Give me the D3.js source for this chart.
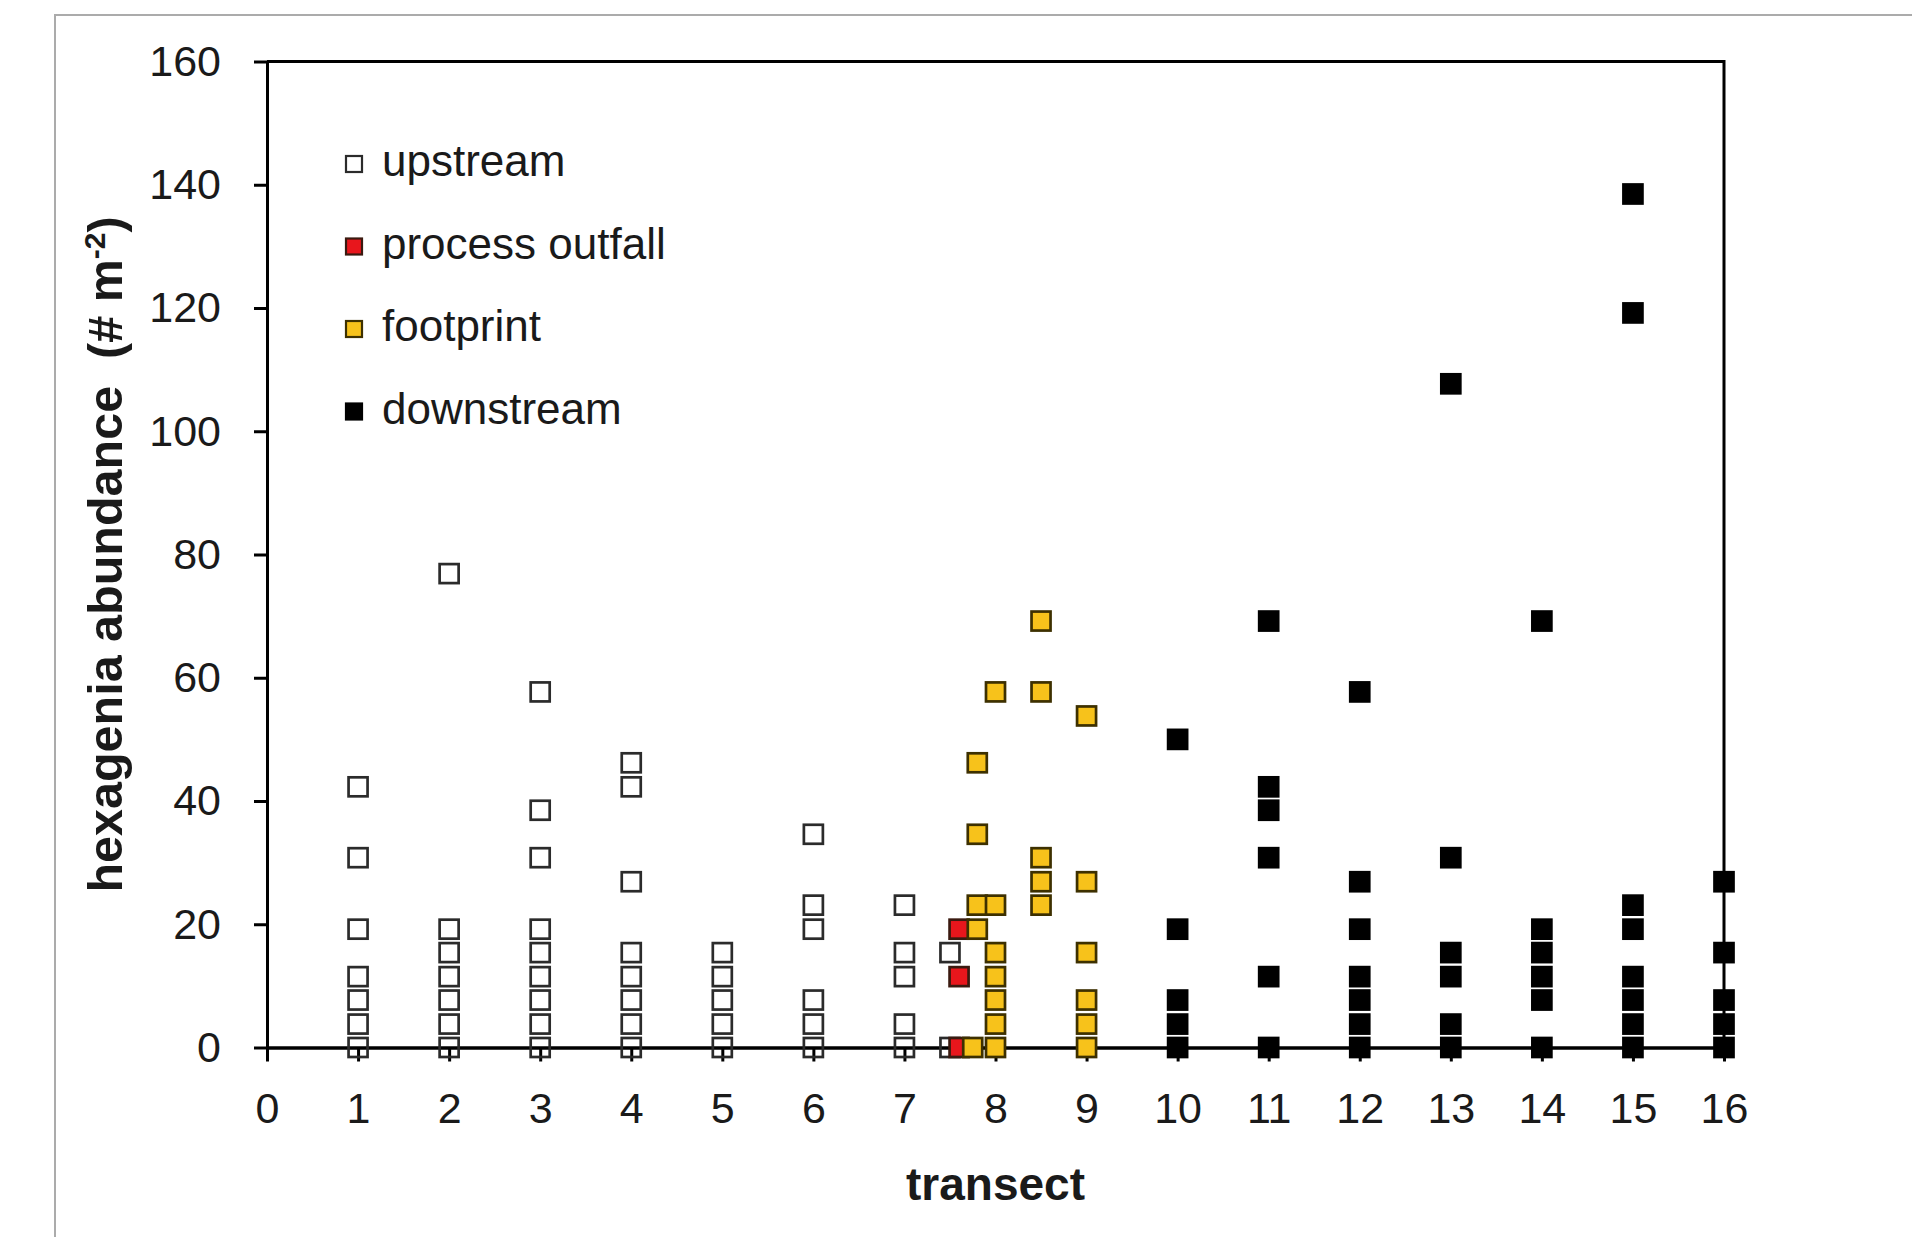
<!DOCTYPE html>
<html>
<head>
<meta charset="utf-8">
<script src="https://cdn.jsdelivr.net/npm/d3@7"></script>
<style>
  body { margin: 0; background: #fff; }
  svg { display: block; }
  text { font-family: "Liberation Sans", Arial, sans-serif; fill: #1a1a1a; }
</style>
</head>
<body>
<script>
// values, hexagenia per m2 (one animal = 3.846 per m2)
var upstream = [
  [1,42.3],[1,30.8],[1,19.2],[1,11.5],[1,7.7],[1,3.8],[1,0],
  [2,76.9],[2,19.2],[2,15.4],[2,11.5],[2,7.7],[2,3.8],[2,0],
  [3,57.7],[3,38.5],[3,30.8],[3,19.2],[3,15.4],[3,11.5],[3,7.7],[3,3.8],[3,0],
  [4,46.2],[4,42.3],[4,26.9],[4,15.4],[4,11.5],[4,7.7],[4,3.8],[4,0],
  [5,15.4],[5,11.5],[5,7.7],[5,3.8],[5,0],
  [6,34.6],[6,23.1],[6,19.2],[6,7.7],[6,3.8],[6,0],
  [7,23.1],[7,15.4],[7,11.5],[7,3.8],[7,0],
  [7.5,15.4],[7.5,0]
];
var outfall = [[7.6,19.2],[7.6,11.5],[7.6,0]];
var footprint = [
  [7.8,46.2],[7.8,34.6],[7.8,23.1],[7.8,19.2],[7.75,0],
  [8,57.7],[8,23.1],[8,15.4],[8,11.5],[8,7.7],[8,3.8],[8,0],
  [8.5,69.2],[8.5,57.7],[8.5,30.8],[8.5,26.9],[8.5,23.1],
  [9,53.8],[9,26.9],[9,15.4],[9,7.7],[9,3.8],[9,0]
];
var downstream = [
  [10,50.0],[10,19.2],[10,7.7],[10,3.8],[10,0],
  [11,69.2],[11,42.3],[11,38.5],[11,30.8],[11,11.5],[11,0],
  [12,57.7],[12,26.9],[12,19.2],[12,11.5],[12,7.7],[12,3.8],[12,0],
  [13,107.7],[13,30.8],[13,15.4],[13,11.5],[13,3.8],[13,0],
  [14,69.2],[14,19.2],[14,15.4],[14,11.5],[14,7.7],[14,0],
  [15,138.5],[15,119.2],[15,23.1],[15,19.2],[15,11.5],[15,7.7],[15,3.8],[15,0],
  [16,26.9],[16,15.4],[16,7.7],[16,3.8],[16,0]
];
var seriesNames = ['upstream', 'process outfall', 'footprint', 'downstream'];
var xTicks = d3.range(0, 17, 1);
var yTicks = [0, 20, 40, 60, 80, 100, 120, 140, 160];

var fills = ['none', '#e8161c', '#f7c21b', '#000'];
var strokes = ['#2b2b2b', '#3a1a10', '#3d3000', '#000'];

var W = 1912, H = 1237;
var svg = d3.select('body').append('svg')
  .attr('width', W)
  .attr('height', H);

// outer grey frame, cut by the picture edge
svg.append('rect')
  .attr('x', 55).attr('y', 15)
  .attr('width', W).attr('height', H)
  .attr('fill', '#fff')
  .attr('stroke', '#ababab')
  .attr('stroke-width', 2);

var x = d3.scaleLinear().domain([0, 16]).range([267, 1724]);
var y = d3.scaleLinear().domain([0, 160]).range([1047.5, 61.5]);

// box top and right
svg.append('path')
  .attr('d', 'M' + x(0) + ',' + y(160) + 'H' + x(16) + 'V' + y(0))
  .attr('fill', 'none')
  .attr('stroke', '#000')
  .attr('stroke-width', 3);

var yAxis = svg.append('g')
  .attr('transform', 'translate(' + x(0) + ',0)')
  .call(d3.axisLeft(y).tickValues(yTicks).tickSize(13).tickSizeOuter(0).tickPadding(33));

var xAxis = svg.append('g')
  .attr('transform', 'translate(0,' + y(0) + ')')
  .call(d3.axisBottom(x).tickValues(xTicks).tickSize(14).tickSizeOuter(0).tickPadding(31));

[yAxis, xAxis].forEach(function(a) {
  a.selectAll('path, line').attr('stroke', '#000').attr('stroke-width', 3);
  a.selectAll('text')
    .attr('font-family', '"Liberation Sans", Arial, sans-serif')
    .attr('font-size', 43)
    .attr('fill', '#1a1a1a');
});
xAxis.select('path.domain').attr('stroke-width', 3.5);

// markers, drawn in series order like the original
var allSeries = [upstream, outfall, footprint, downstream];
var S = 19;
allSeries.forEach(function(data, i) {
  svg.append('g')
    .selectAll('rect')
    .data(data)
    .enter()
    .append('rect')
    .attr('x', function(d) { return x(d[0]) - S / 2; })
    .attr('y', function(d) { return y(d[1]) - S / 2; })
    .attr('width', S)
    .attr('height', S)
    .attr('fill', fills[i])
    .attr('stroke', strokes[i])
    .attr('stroke-width', 2.7);
});

// legend
var legend = svg.append('g')
  .selectAll('g')
  .data(seriesNames)
  .enter()
  .append('g')
  .attr('transform', function(d, i) { return 'translate(354,' + (164 + i * 82.5) + ')'; });

legend.append('rect')
  .attr('x', -8).attr('y', -8)
  .attr('width', 16).attr('height', 16)
  .attr('fill', function(d, i) { return i === 0 ? '#fff' : fills[i]; })
  .attr('stroke', function(d, i) { return strokes[i]; })
  .attr('stroke-width', 2.2);

legend.append('text')
  .attr('x', 28)
  .attr('y', 12)
  .attr('font-size', 44)
  .text(function(d) { return d; });

// axis titles
svg.append('text')
  .attr('x', x(8))
  .attr('y', 1200)
  .attr('text-anchor', 'middle')
  .attr('font-size', 46)
  .attr('font-weight', 'bold')
  .text('transect');

var ylab = svg.append('text')
  .attr('transform', 'translate(122,' + ((y(0) + y(160)) / 2) + ') rotate(-90)')
  .attr('text-anchor', 'middle')
  .attr('font-size', 48.5)
  .attr('font-weight', 'bold');
ylab.append('tspan').text('hexagenia abundance  (# m');
ylab.append('tspan').attr('dy', -17).attr('font-size', 30).text('-2');
ylab.append('tspan').attr('dy', 17).text(')');
ylab.attr('xml:space', 'preserve');
</script>
</body>
</html>
